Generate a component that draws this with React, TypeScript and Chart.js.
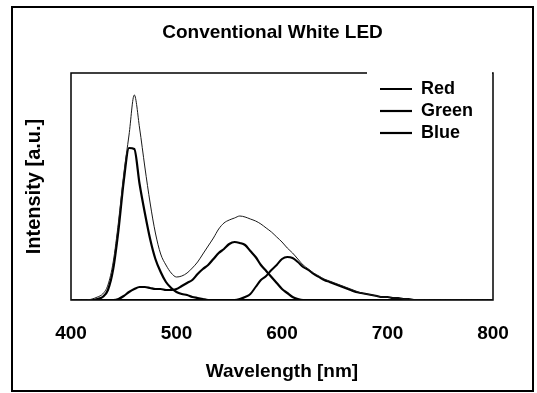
import React, { useEffect, useRef } from 'react';
import { Chart, registerables } from 'chart.js';

Chart.register(...registerables);

// ---- data ----
const WAVELENGTH_NM = [
  400, 405, 410, 415, 420, 425, 430, 435, 440, 445, 450, 455, 460, 465, 470, 475, 480, 485, 490, 495,
  500, 505, 510, 515, 520, 525, 530, 535, 540, 545, 550, 555, 560, 565, 570, 575, 580, 585, 590, 595,
  600, 605, 610, 615, 620, 625, 630, 635, 640, 645, 650, 655, 660, 665, 670, 675, 680, 685, 690, 695,
  700, 705, 710, 715, 720, 725, 730, 735, 740, 745, 750, 755, 760, 765, 770, 775, 780, 785, 790, 795,
  800,
];

// total white-LED spectrum (thin line, not in legend)
const SPECTRUM = [
  0, 0, 0, 0, 1, 3, 6, 15, 38, 78, 126, 165, 205, 172, 133, 97, 67, 46, 35, 27,
  23, 24, 27, 32, 38, 46, 54, 62, 71, 77, 80, 82, 84, 83, 81, 79, 76, 72, 68, 63,
  58, 52, 47, 41, 35, 31, 27, 24, 21, 19, 17, 15, 13, 11, 9, 7, 6, 5, 4, 3,
  3, 2, 2, 1, 1, 0, 0, 0, 0, 0, 0, 0, 0, 0, 0, 0, 0, 0, 0, 0,
  0,
];

const RED = [
  0, 0, 0, 0, 0, 0, 0, 0, 0, 0, 0, 0, 0, 0, 0, 0, 0, 0, 0, 0,
  0, 0, 0, 0, 0, 0, 0, 0, 0, 0, 0, 0, 1, 3, 6, 13, 20, 24, 30, 35,
  41, 43, 42, 38, 33, 30, 26, 23, 20, 18, 16, 14, 12, 10, 8, 7, 6, 5, 4, 3,
  3, 2, 2, 1, 1, 0, 0, 0, 0, 0, 0, 0, 0, 0, 0, 0, 0, 0, 0, 0,
  0,
];

const GREEN = [
  0, 0, 0, 0, 0, 0, 0, 0, 0, 1, 4, 8, 11, 13, 13, 12, 11, 11, 10, 10,
  11, 14, 17, 20, 26, 31, 35, 41, 47, 51, 56, 58, 57, 55, 49, 43, 35, 29, 23, 17,
  11, 7, 3, 1, 0, 0, 0, 0, 0, 0, 0, 0, 0, 0, 0, 0, 0, 0, 0, 0,
  0, 0, 0, 0, 0, 0, 0, 0, 0, 0, 0, 0, 0, 0, 0, 0, 0, 0, 0, 0,
  0,
];

const BLUE = [
  0, 0, 0, 0, 0, 1, 3, 10, 31, 70, 119, 152, 151, 116, 87, 61, 41, 28, 18, 12,
  8, 6, 5, 3, 2, 1, 0, 0, 0, 0, 0, 0, 0, 0, 0, 0, 0, 0, 0, 0,
  0, 0, 0, 0, 0, 0, 0, 0, 0, 0, 0, 0, 0, 0, 0, 0, 0, 0, 0, 0,
  0, 0, 0, 0, 0, 0, 0, 0, 0, 0, 0, 0, 0, 0, 0, 0, 0, 0, 0, 0,
  0,
];

const X_TICKS = [400, 500, 600, 700, 800];
const Y_MAX = 227;
const CHART_TITLE = 'Conventional White LED';
const X_TITLE = 'Wavelength [nm]';
const Y_TITLE = 'Intensity [a.u.]';
const SPECTRUM_LABEL = 'Spectrum';

// ---- styling ----
const FONT = "'Liberation Sans', Arial, Helvetica, sans-serif";
const PAD = { left: 12, right: 4, top: 7, bottom: 2 };

const toPoints = (ys: number[]) => WAVELENGTH_NM.map((x, i) => ({ x, y: ys[i] }));

const framePlugin = {
  id: 'frame',
  afterLayout(chart: any) {
    const lg = chart.legend;
    const a = chart.chartArea;
    if (!lg || !a) return;
    lg.left = a.right - 117;
    lg.top = a.top + 3;
    lg.width = 115;
    lg.height = 90;
    lg.right = lg.left + lg.width;
    lg.bottom = lg.top + lg.height;
  },
  beforeDraw(chart: any) {
    const ctx = chart.ctx;
    const a = chart.chartArea;
    ctx.save();
    ctx.fillStyle = '#fff';
    ctx.fillRect(0, 0, chart.width, chart.height);
    ctx.strokeStyle = '#000';
    ctx.lineWidth = 2;
    ctx.strokeRect(PAD.left, PAD.top, chart.width - PAD.left - PAD.right, chart.height - PAD.top - PAD.bottom);
    ctx.lineWidth = 1.5;
    ctx.strokeRect(a.left, a.top, a.right - a.left, a.bottom - a.top);
    const lg = chart.legend;
    if (lg) {
      ctx.fillStyle = '#fff';
      const gx = lg.left - 9;
      ctx.fillRect(gx, a.top - 2, a.right - 1 - gx, 4);
    }
    ctx.restore();
  },
};

export default function App() {
  const ref = useRef<HTMLCanvasElement | null>(null);

  useEffect(() => {
    if (!ref.current) return;
    Chart.defaults.font.family = FONT;
    Chart.defaults.color = '#000';

    const line = (label: string, ys: number[], width: number, color: string) => ({
      label,
      data: toPoints(ys),
      borderColor: color,
      backgroundColor: color,
      borderWidth: width,
      pointRadius: 0,
      pointHoverRadius: 0,
      fill: false,
      cubicInterpolationMode: 'monotone' as const,
      yAxisID: 'y',
    });

    const chart = new Chart(ref.current, {
      type: 'line',
      data: {
        datasets: [
          line(SPECTRUM_LABEL, SPECTRUM, 1, '#1a1a1a'),
          line('Red', RED, 2, '#000'),
          line('Green', GREEN, 2.2, '#000'),
          line('Blue', BLUE, 2.2, '#000'),
        ],
      },
      options: {
        responsive: false,
        animation: false,
        events: [],
        layout: { padding: PAD },
        plugins: {
          title: {
            display: true,
            text: CHART_TITLE,
            color: '#000',
            font: { family: FONT, size: 19, weight: 'bold' },
            padding: { top: 14, bottom: 29.2 },
          },
          legend: {
            display: true,
            position: 'chartArea',
            align: 'start',
            labels: {
              usePointStyle: true,
              pointStyle: 'line',
              pointStyleWidth: 32,
              padding: 4,
              textAlign: 'left',
              color: '#000',
              font: { family: FONT, size: 18, weight: 'bold' },
              filter: (item: any) => item.text !== SPECTRUM_LABEL,
            },
          },
          tooltip: { enabled: false },
        },
        scales: {
          x: {
            type: 'linear',
            min: X_TICKS[0],
            max: X_TICKS[X_TICKS.length - 1],
            afterBuildTicks: (s: any) => {
              s.ticks = X_TICKS.map((v) => ({ value: v }));
            },
            afterFit: (s: any) => {
              s.height = 91;
            },
            grid: { display: false, drawTicks: false, drawOnChartArea: false },
            border: { display: false },
            ticks: {
              padding: 22,
              color: '#000',
              maxRotation: 0,
              autoSkip: false,
              font: { family: FONT, size: 19, weight: 'bold' },
            },
            title: {
              display: true,
              text: X_TITLE,
              color: '#000',
              font: { family: FONT, size: 19, weight: 'bold' },
              padding: { top: 15.8, bottom: 7.6 },
            },
          },
          y: {
            type: 'linear',
            position: 'left',
            min: 0,
            max: Y_MAX,
            grid: { display: false, drawTicks: false, drawOnChartArea: false },
            border: { display: false },
            ticks: { display: false },
            title: {
              display: true,
              text: Y_TITLE,
              color: '#000',
              font: { family: FONT, size: 20, weight: 'bold' },
              padding: { top: 10, bottom: 25 },
            },
          },
          yR: {
            type: 'linear',
            position: 'right',
            display: true,
            grid: { display: false, drawTicks: false, drawOnChartArea: false },
            border: { display: false },
            ticks: { display: false },
            title: { display: false },
            afterFit: (s: any) => {
              s.width = 40;
            },
          },
        },
      } as any,
      plugins: [framePlugin],
    });

    return () => chart.destroy();
  }, []);

  return (
    <div style={{ position: 'absolute', left: 0, top: 0, width: 537, height: 393, background: '#fff' }}>
      <canvas ref={ref} width={537} height={393} style={{ display: 'block', width: 537, height: 393 }} />
    </div>
  );
}
